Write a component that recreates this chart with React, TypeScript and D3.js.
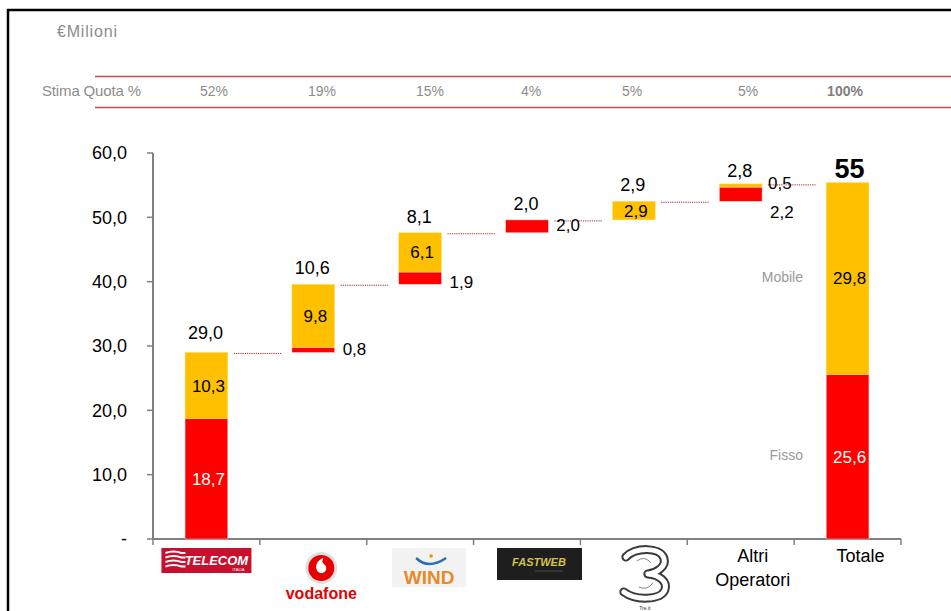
import React from 'react';
import * as d3 from 'd3';

// Quote di mercato (€ milioni) - Fisso / Mobile
const categories = ['Telecom', 'Vodafone', 'Wind', 'Fastweb', 'Tre', 'Altri Operatori', 'Totale'];
const fisso = [18.7, 0.8, 1.9, 2.0, 0, 2.2, 25.6];
const mobile = [10.3, 9.8, 6.1, 0, 2.9, 0.5, 29.8];
const totalLabels = ['29,0', '10,6', '8,1', '2,0', '2,9', '2,8', '55'];
const quota = ['52%', '19%', '15%', '4%', '5%', '5%', '100%'];
const quotaX = [214, 322, 430, 531, 632, 748, 845];
const yTicks = [0, 10, 20, 30, 40, 50, 60];

const RED = '#ff0000';
const YELLOW = '#ffc000';
const GRAY = '#8c8c8c';
const FONT = '"Liberation Sans", Arial, sans-serif';

const fmt = (v: number) => (v === 0 ? '-' : d3.format('.1f')(v).replace('.', ','));

function Logo({ name, cx }: { name: string; cx: number }) {
  if (name === 'Telecom') {
    return (
      <g>
        <rect x={cx - 45} y={548} width={90} height={25} fill="#c8102e" />
        {[0, 1, 2, 3].map(i => (
          <path key={i} d={`M${cx - 41},${553 + i * 4.5} q8,-3 16,0 h4`} stroke="#fff" strokeWidth={2} fill="none" />
        ))}
        <text x={cx + 10} y={565} fill="#fff" fontSize={13} fontWeight="bold" fontStyle="italic" textAnchor="middle" fontFamily={FONT}>TELECOM</text>
        <text x={cx + 32} y={571} fill="#fff" fontSize={4} textAnchor="middle" fontFamily={FONT}>ITALIA</text>
      </g>
    );
  }
  if (name === 'Vodafone') {
    return (
      <g>
        <circle cx={cx + 8} cy={568} r={16} fill="#e0e0e0" />
        <circle cx={cx + 8} cy={568} r={13} fill="#e60000" />
        <path d={`M${cx + 10},${558} c-6,2 -9,8 -6,13 c3,4 9,2 9,-3 c0,-3 -3,-4 -4,-6 c0,-2 1,-3 1,-4 z`} fill="#fff" />
        <text x={cx + 8} y={599} fill="#e60000" fontSize={16} fontWeight="bold" textAnchor="middle" fontFamily={FONT}>vodafone</text>
      </g>
    );
  }
  if (name === 'Wind') {
    return (
      <g>
        <rect x={cx - 28} y={548} width={74} height={39} fill="#f2f2f2" />
        <path d={`M${cx - 4},${558} q12,12 30,0`} stroke="#2a6fb6" strokeWidth={2.5} fill="none" />
        <circle cx={cx + 11} cy={556} r={1.8} fill="#f39200" />
        <text x={cx + 9} y={584} fill="#e8892a" fontSize={19} fontWeight="bold" textAnchor="middle" fontFamily={FONT}>WIND</text>
      </g>
    );
  }
  if (name === 'Fastweb') {
    return (
      <g>
        <rect x={cx - 30} y={548} width={85} height={32} fill="#1e1e1e" />
        <text x={cx + 12} y={566} fill="#d2c24a" fontSize={11} fontWeight="bold" fontStyle="italic" textAnchor="middle" fontFamily={FONT}>FASTWEB</text>
        <line x1={cx + 8} x2={cx + 36} y1={571} y2={571} stroke="#555" strokeWidth={0.8} />
      </g>
    );
  }
  if (name === 'Tre') {
    const ox = cx + 11;
    const d = `M${ox - 19},${557} C${ox - 9},${547} ${ox + 15},${547} ${ox + 19},${558} C${ox + 22},${567} ${ox + 11},${573} ${ox + 3},${574} C${ox + 15},${575} ${ox + 23},${582} ${ox + 20},${590} C${ox + 16},${600} ${ox - 9},${601} ${ox - 21},${592}`;
    return (
      <g>
        <path d={d} fill="none" stroke="#3a3a3a" strokeWidth={9} strokeLinecap="round" strokeLinejoin="round" />
        <path d={d} fill="none" stroke="#fff" strokeWidth={5} strokeLinecap="round" strokeLinejoin="round" />
        <path d={`M${ox - 8},${561} q8,-6 14,2 M${ox - 6},${587} q8,4 14,-4`} fill="none" stroke="#666" strokeWidth={0.8} />
        <text x={ox} y={610} fill="#333" fontSize={5} textAnchor="middle" fontFamily={FONT}>Tre.it</text>
      </g>
    );
  }
  return null;
}

export default function App() {
  const width = 951;
  const height = 611;

  const x = d3.scaleBand<string>().domain(categories).range([153, 901]).paddingInner(0).paddingOuter(0);
  const y = d3.scaleLinear().domain([0, 60]).range([539, 153]);
  const bw = x.bandwidth() * 0.4;

  // waterfall bases
  const totals = categories.map((_, i) => fisso[i] + mobile[i]);
  const last = categories.length - 1;
  const bases = categories.map((_, i) => (i === last ? 0 : d3.sum(totals.slice(0, i))));

  return (
    <svg width={width} height={height} style={{ position: 'absolute', left: 0, top: 0, background: '#fff' }} fontFamily={FONT}>
      {/* frame */}
      <path d={`M8,${height + 5} V10 H${width + 5}`} fill="none" stroke="#000" strokeWidth={2.5} />

      {/* header */}
      <text x={57} y={37} fill={GRAY} fontSize={16} textLength={60}>€Milioni</text>
      <line x1={95} x2={width} y1={76.5} y2={76.5} stroke="#c0504d" strokeWidth={1.3} />
      <line x1={95} x2={width} y1={107.5} y2={107.5} stroke="#c0504d" strokeWidth={1.3} />
      <text x={42} y={96} fill={GRAY} fontSize={15} textLength={99}>Stima Quota %</text>
      {quota.map((q, i) => (
        <text key={q + i} x={quotaX[i]} y={96} fill={i === last ? '#7f7f7f' : GRAY} fontSize={14}
          fontWeight={i === last ? 'bold' : 'normal'} textAnchor="middle">{q}</text>
      ))}

      {/* y axis */}
      <line x1={153} x2={153} y1={y(60)} y2={y(0)} stroke="#808080" strokeWidth={2} />
      {yTicks.map(t => (
        <g key={t}>
          <line x1={147} x2={153} y1={y(t)} y2={y(t)} stroke="#808080" strokeWidth={1.5} />
          <text x={127} y={y(t)} dy="0.35em" fontSize={18} textAnchor="end" fill="#000">{fmt(t)}</text>
        </g>
      ))}

      {/* x axis */}
      <line x1={152} x2={901} y1={y(0)} y2={y(0)} stroke="#808080" strokeWidth={2} />
      {categories.map(c => (
        <line key={c} x1={x(c)!} x2={x(c)!} y1={y(0)} y2={y(0) + 6} stroke="#808080" strokeWidth={1.5} />
      ))}
      <line x1={901} x2={901} y1={y(0)} y2={y(0) + 6} stroke="#808080" strokeWidth={1.5} />

      {/* connectors */}
      {categories.slice(0, last).map((c, i) => {
        const next = categories[i + 1];
        const lvl = bases[i] + totals[i];
        const x1 = x(c)! + x.bandwidth() / 2 + bw / 2 + 6;
        const x2 = x(next)! + x.bandwidth() / 2 - bw / 2 - 10;
        return (
          <line key={'c' + c} x1={x1} x2={x2} y1={y(lvl) + 1} y2={y(lvl) + 1} stroke="#a52a2a" strokeWidth={1} strokeDasharray="1.2,1" />
        );
      })}

      {/* bars */}
      {categories.map((c, i) => {
        const cx = x(c)! + x.bandwidth() / 2;
        const b = bases[i];
        const f = fisso[i];
        const m = mobile[i];
        const top = b + f + m;
        const xr = cx + bw / 2 + 8;
        return (
          <g key={'b' + c}>
            {f > 0 && <rect x={cx - bw / 2} y={y(b + f)} width={bw} height={y(b) - y(b + f)} fill={RED} stroke="#ffd0d0" strokeWidth={0.5} />}
            {m > 0 && <rect x={cx - bw / 2} y={y(top)} width={bw} height={y(b + f) - y(top)} fill={YELLOW} stroke="#ffe080" strokeWidth={0.5} />}
            {/* segment labels */}
            {f > 0 && (y(b) - y(b + f) > 18 ? (
              <text x={cx + 2} y={(y(b) + y(b + f)) / 2} dy="0.35em" fontSize={17} fill="#fff" textAnchor="middle">{fmt(f)}</text>
            ) : (
              <text x={xr} y={(y(b) + y(b + f)) / 2 + (i === 5 ? 24 : i === 2 ? 10 : 5)} fontSize={17} fill="#000">{fmt(f)}</text>
            ))}
            {m > 0 && (y(b + f) - y(top) > 16 ? (
              <text x={cx + 2} y={(y(b + f) + y(top)) / 2} dy="0.35em" fontSize={17} fill="#000" textAnchor="middle">{fmt(m)}</text>
            ) : (
              <text x={xr - 2} y={(y(b + f) + y(top)) / 2 + 4} fontSize={17} fill="#000">{fmt(m)}</text>
            ))}
            {/* total label */}
            {i === last ? (
              <text x={cx + 2} y={y(top) - 5} fontSize={27} fontWeight="bold" textAnchor="middle" fill="#000">{totalLabels[i]}</text>
            ) : (
              <text x={cx - 1} y={y(top) - (i === 0 ? 13 : i === 5 ? 7 : 10)} fontSize={18} textAnchor="middle" fill="#000">{totalLabels[i]}</text>
            )}
          </g>
        );
      })}

      {/* legend labels on total */}
      <text x={803} y={282} fontSize={14} fill="#999" textAnchor="end">Mobile</text>
      <text x={803} y={460} fontSize={14} fill="#999" textAnchor="end">Fisso</text>

      {/* category labels / logos */}
      {categories.map(c => {
        const cx = x(c)! + x.bandwidth() / 2;
        if (c === 'Altri Operatori') {
          return (
            <text key={'l' + c} x={cx + 12} y={562} fontSize={18} textAnchor="middle" fill="#000">
              <tspan x={cx + 12}>Altri</tspan>
              <tspan x={cx + 12} dy={24}>Operatori</tspan>
            </text>
          );
        }
        if (c === 'Totale') {
          return <text key={'l' + c} x={cx + 13} y={562} fontSize={18} textAnchor="middle" fill="#000">Totale</text>;
        }
        return <Logo key={'l' + c} name={c} cx={cx} />;
      })}
    </svg>
  );
}
